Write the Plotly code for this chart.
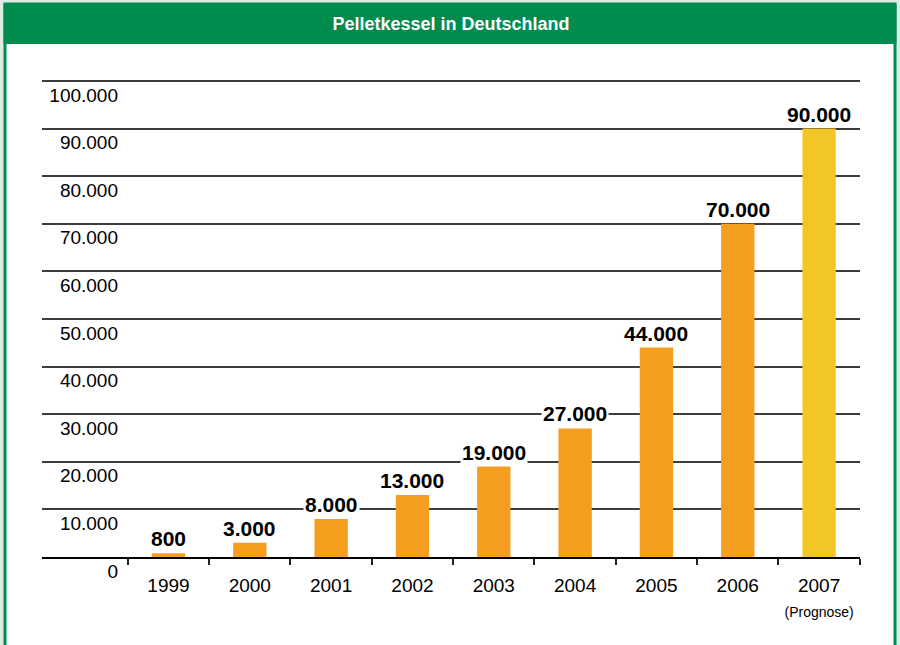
import plotly.graph_objects as go

# ---- data ----
years = ["1999", "2000", "2001", "2002", "2003", "2004", "2005", "2006", "2007"]
year_labels = ["1999", "2000", "2001", "2002", "2003", "2004", "2005", "2006",
               "2007<br><span style='font-size:14px'>(Prognose)</span>"]
values = [800, 3000, 8000, 13000, 19000, 27000, 44000, 70000, 90000]
value_labels = ["800", "3.000", "8.000", "13.000", "19.000", "27.000", "44.000", "70.000", "90.000"]
bar_colors = ["#F69E1F"] * 8 + ["#F1C626"]
y_tickvals = [0, 10000, 20000, 30000, 40000, 50000, 60000, 70000, 80000, 90000, 100000]
y_ticktext = ["0", "10.000", "20.000", "30.000", "40.000", "50.000", "60.000",
              "70.000", "80.000", "90.000", "100.000"]
title_text = "Pelletkessel in Deutschland"

FONT = "Liberation Sans Narrow, Liberation Sans, Arial, sans-serif"
GREEN = "#008B4F"

xpos = list(range(len(years)))
boundaries = [i - 0.5 for i in xpos] + [xpos[-1] + 0.5]

fig = go.Figure()
fig.add_trace(go.Bar(
    x=xpos, y=values, marker=dict(color=bar_colors, line=dict(width=0)),
    width=0.41, hoverinfo="skip", showlegend=False,
))

for xi, v, t in zip(xpos, values, value_labels):
    fig.add_annotation(
        x=xi, y=v, text="<b>" + t + "</b>", showarrow=False,
        yanchor="bottom", yshift=1, bgcolor="white", borderpad=1,
        font=dict(family=FONT, size=21, color="black"),
    )

# frame decoration (paper coords relative to plot domain)
L, R, T, B = 42, 860, 79, 557
W, H = R - L, B - T
def px(x):
    return (x - L) / W
def py(y):
    return (B - y) / H

fig.add_shape(type="rect", xref="paper", yref="paper",
              x0=px(5), x1=px(895), y0=py(4), y1=py(660),
              fillcolor="white", line=dict(color=GREEN, width=3), layer="below")
fig.add_shape(type="rect", xref="paper", yref="paper",
              x0=px(3.5), x1=px(896.5), y0=py(4), y1=py(44),
              fillcolor=GREEN, line=dict(width=0), layer="below")

fig.update_layout(
    width=900, height=645,
    margin=dict(l=L, r=900 - R, t=T, b=645 - B),
    paper_bgcolor="#DDECE3",
    plot_bgcolor="rgba(0,0,0,0)",
    title=dict(text="<b>" + title_text + "</b>", x=0.5, xref="paper",
               y=1 - 24 / 645, yref="container", yanchor="middle", xanchor="center",
               font=dict(family=FONT, size=18, color="white")),
    xaxis=dict(
        range=[-1.555, 8.503], tickmode="array", tickvals=xpos, ticktext=year_labels,
        ticks="", showgrid=False, zeroline=False,
        showline=True, linecolor="black", linewidth=2,
        tickfont=dict(family=FONT, size=19, color="black"),
        ticklabelstandoff=10,
        minor=dict(tickmode="array", tickvals=boundaries, ticks="outside",
                   ticklen=6, tickwidth=1.5, tickcolor="#222", showgrid=False),
        fixedrange=True,
    ),
    yaxis=dict(
        range=[0, 100400], tickmode="array", tickvals=y_tickvals, ticktext=y_ticktext,
        anchor="free", position=(118 - L) / W,
        showgrid=True, gridcolor="#3c3c3c", gridwidth=1.5,
        zeroline=False, showline=False, ticks="",
        tickfont=dict(family=FONT, size=19, color="black"),
        ticklabelshift=14,
        fixedrange=True,
    ),
)

fig.write_html("out.html", config={"displayModeBar": False},
               post_script="document.body.style.margin='0px';")
